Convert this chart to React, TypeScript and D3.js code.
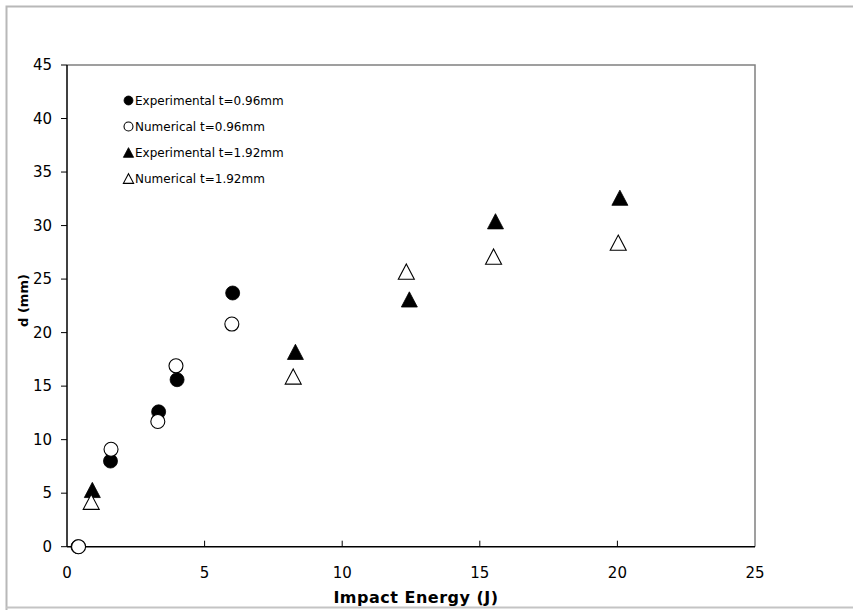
import React from "react";
import * as d3 from "d3";

const expThinX = [0.4, 1.58, 3.33, 4.0, 6.02];
const expThinY = [0, 8.0, 12.6, 15.6, 23.7];
const numThinX = [0.42, 1.6, 3.3, 3.96, 5.99];
const numThinY = [0, 9.1, 11.7, 16.9, 20.8];
const expThickX = [0.92, 8.3, 12.44, 15.57, 20.09];
const expThickY = [5.3, 18.2, 23.1, 30.4, 32.6];
const numThickX = [0.88, 8.22, 12.33, 15.5, 20.03];
const numThickY = [4.2, 15.9, 25.7, 27.1, 28.4];

const xTicks = [0, 5, 10, 15, 20, 25];
const yTicks = [0, 5, 10, 15, 20, 25, 30, 35, 40, 45];
const legendLabels = [
  "Experimental t=0.96mm",
  "Numerical t=0.96mm",
  "Experimental t=1.92mm",
  "Numerical t=1.92mm",
];

const W = 853;
const H = 610;
const FONT = "'DejaVu Sans', Verdana, sans-serif";

const x = d3.scaleLinear().domain([0, 25]).range([67, 755]);
const y = d3.scaleLinear().domain([0, 45]).range([546.7, 65]);

const circlePath = d3.symbol().type(d3.symbolCircle).size(Math.PI * 7 * 7)() as string;
const triPath = (s: number) => {
  const h = s * 0.95;
  return `M0,${-h / 2}L${s / 2},${h / 2}L${-s / 2},${h / 2}Z`;
};

function Marker({ kind, filled, cx, cy, scale = 1 }: { kind: string; filled: boolean; cx: number; cy: number; scale?: number }) {
  const d = kind === "circle" ? circlePath : triPath(16);
  return (
    <path
      d={d}
      transform={`translate(${cx},${cy}) scale(${scale})`}
      fill={filled ? "#000" : "#fff"}
      stroke="#000"
      strokeWidth={filled ? 0.8 / scale : 1.1 / scale}
    />
  );
}

export default function App() {
  const series = [
    { xs: expThinX, ys: expThinY, kind: "circle", filled: true },
    { xs: numThinX, ys: numThinY, kind: "circle", filled: false },
    { xs: expThickX, ys: expThickY, kind: "tri", filled: true },
    { xs: numThickX, ys: numThickY, kind: "tri", filled: false },
  ];
  const x0 = x.range()[0];
  const x1 = x.range()[1];
  const y0 = y.range()[0];
  const y1 = y.range()[1];
  return (
    <svg width={W} height={H} style={{ position: "absolute", left: 0, top: 0 }}>
      <rect x={0} y={0} width={W} height={H} fill="#fff" />
      <path d={`M6.5,${H}V6.5H${W}`} fill="none" stroke="#b8b8b8" strokeWidth={2} />
      <line x1={6} x2={W} y1={607.5} y2={607.5} stroke="#c4c4c4" strokeWidth={2} />
      <path d={`M${x0},${y1}H${x1}V${y0}`} fill="none" stroke="#808080" strokeWidth={1.5} />
      <line x1={x0} x2={x1} y1={y0} y2={y0} stroke="#000" strokeWidth={1.5} />
      <line x1={x0} x2={x0} y1={y0} y2={y1} stroke="#000" strokeWidth={1.5} />
      {xTicks.map((t) => (
        <g key={"xt" + t}>
          {t > 0 && t < 25 && (
            <line x1={x(t)} x2={x(t)} y1={y0} y2={y0 - 6} stroke="#000" strokeWidth={1} />
          )}
          <text x={x(t)} y={578} textAnchor="middle" fontFamily={FONT} fontSize={15} fill="#000">
            {t}
          </text>
        </g>
      ))}
      {yTicks.map((t) => (
        <g key={"yt" + t}>
          <line x1={x0} x2={x0 - 6} y1={y(t)} y2={y(t)} stroke="#000" strokeWidth={1} />
          <text x={52} y={y(t) + 5} textAnchor="end" fontFamily={FONT} fontSize={15} fill="#000">
            {t}
          </text>
        </g>
      ))}
      <text x={416} y={603} textAnchor="middle" fontFamily={FONT} fontWeight="bold" fontSize={16} letterSpacing={0.5} fill="#000">
        Impact Energy (J)
      </text>
      <text
        transform={`translate(28,300.5) rotate(-90)`}
        textAnchor="middle"
        fontFamily={FONT}
        fontWeight="bold"
        fontSize={13}
        fill="#000"
      >
        d (mm)
      </text>
      {series.map((s, si) =>
        s.xs.map((xv, i) => (
          <Marker key={si + "-" + i} kind={s.kind} filled={s.filled} cx={x(xv)} cy={y(s.ys[i])} />
        ))
      )}
      {series.map((s, i) => (
        <g key={"lg" + i}>
          <Marker kind={s.kind} filled={s.filled} cx={128.5} cy={100.5 + i * 26} scale={0.64} />
          <text x={135} y={105 + i * 26} fontFamily={FONT} fontSize={12} fill="#000">
            {legendLabels[i]}
          </text>
        </g>
      ))}
    </svg>
  );
}
